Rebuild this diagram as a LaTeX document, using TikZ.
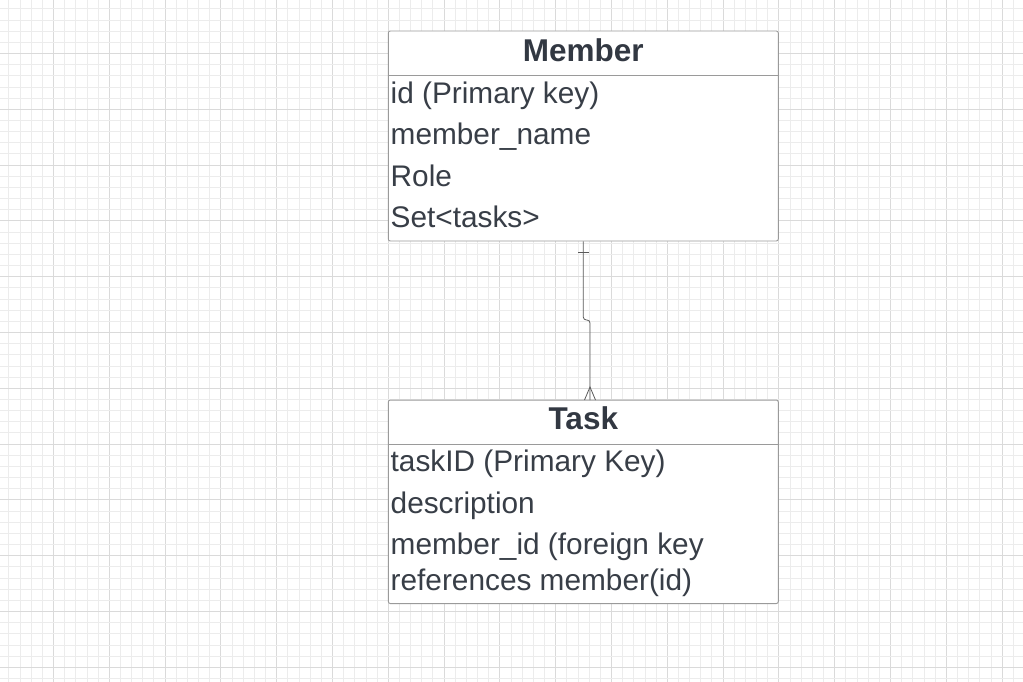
\documentclass[tikz,border=0pt]{standalone}
\usepackage{fontspec}
\setmainfont{Liberation Sans}
\definecolor{txt}{HTML}{383E47}
\definecolor{ttl}{HTML}{323842}
\definecolor{boxline}{HTML}{9A9A9A}
\definecolor{gridminor}{HTML}{ECECEC}
\definecolor{gridmajor}{HTML}{DADADA}
\definecolor{conncol}{HTML}{5A5A5A}
\tikzset{
  erbox/.style={draw=boxline, line width=0.9pt, rounded corners=2pt, minimum width=390pt, inner sep=0pt, fill=white},
  sepline/.style={draw=boxline, line width=0.9pt},
  title/.style={inner sep=0pt, text=ttl, font=\fontsize{31.5}{36}\selectfont\bfseries},
  field/.style={inner sep=0pt, anchor=base west, text=txt, font=\fontsize{29.8}{35}\selectfont},
  conn/.style={draw=conncol, line width=0.8pt},
}
\begin{document}
\begin{tikzpicture}[x=1pt,y=-1pt]
\useasboundingbox (0,0) rectangle (1023,682);
\fill[white] (0,0) rectangle (1023,682);
% grid
\foreach \i in {0,...,93}{
  \pgfmathsetmacro{\p}{-2.4+11.16*\i}
  \pgfmathtruncatemacro{\m}{mod(\i,5)}
  \ifnum\m=0
    \draw[gridmajor, line width=0.8pt] (\p,0) -- (\p,682);
  \else
    \draw[gridminor, line width=0.7pt] (\p,0) -- (\p,682);
  \fi
}
\foreach \i in {0,...,62}{
  \pgfmathsetmacro{\p}{-2.4+11.16*\i}
  \pgfmathtruncatemacro{\m}{mod(\i,5)}
  \ifnum\m=0
    \draw[gridmajor, line width=0.8pt] (0,\p) -- (1023,\p);
  \else
    \draw[gridminor, line width=0.7pt] (0,\p) -- (1023,\p);
  \fi
}
% Member entity
\node[erbox, minimum height=210pt] (member) at (583.3,136) {};
\draw[sepline] (member.west |- 0,75) coordinate (msl) -- (member.east |- 0,75) coordinate (msr);
\node[title] (mtitle) at (583.3,50.5) {Member};
\node[field] (m1) at (390.5,103.2) {id (Primary key)};
\node[field] (m2) at (390.5,144.8) {member\_name};
\node[field] (m3) at (390.5,186.5) {Role};
\node[field] (m4) at (390.5,227.2) {Set<tasks>};
% Task entity
\node[erbox, minimum height=203.5pt] (task) at (583.3,501.8) {};
\draw[sepline] (task.west |- 0,444) coordinate (tsl) -- (task.east |- 0,444) coordinate (tsr);
\node[title] (ttitle) at (583.3,418.5) {Task};
\node[field] (t1) at (390.5,471.5) {taskID (Primary Key)};
\node[field] (t2) at (390.5,513.2) {description};
\node[field] (t3) at (390.5,554.8) {member\_id (foreign key};
\node[field] (t4) at (390.5,590) {references member(id)};
% connector
\coordinate (cin) at (590,400);
\coordinate (cfoot) at (590,387);
\draw[conn, rounded corners=3pt] (member.south) -- (583.3,320) -- (590,320) -- (cin);
\draw[conn] (578,252.5) -- (589,252.5);
\draw[conn] (584.5,400) -- (cfoot) -- (595.5,400);
\end{tikzpicture}
\end{document}
